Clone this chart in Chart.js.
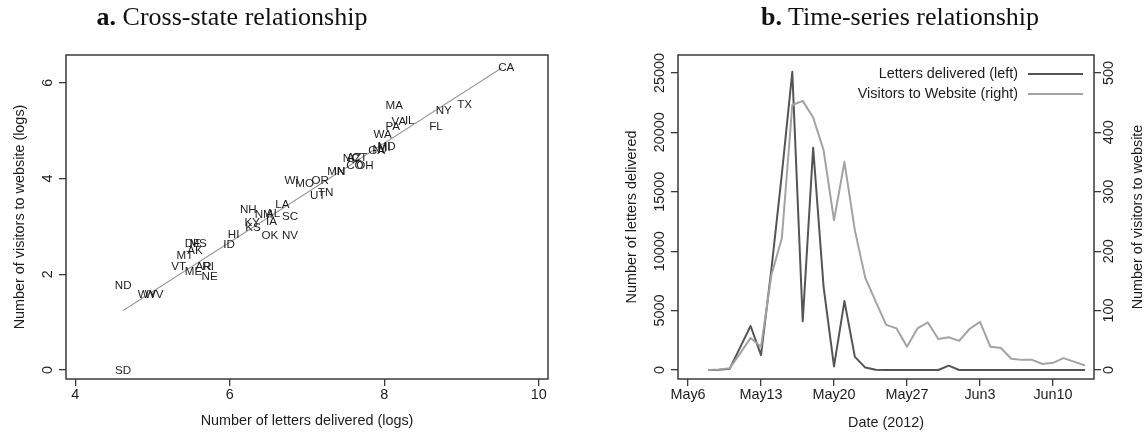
<!DOCTYPE html>
<html>
<head>
<meta charset="utf-8">
<script src="https://cdn.jsdelivr.net/npm/chart.js@4.4.1/dist/chart.umd.min.js"></script>
<style>
  html, body { margin: 0; padding: 0; background: #fff; }
  #wrap { position: relative; width: 1148px; height: 439px; overflow: hidden; }
  .panel { position: absolute; top: 0; width: 574px; height: 439px; }
  .title {
    position: absolute; top: 2px; line-height: 30px;
    font-family: "Liberation Serif", "DejaVu Serif", serif; font-size: 26px;
    color: #111; white-space: nowrap; transform: translateX(-50%);
  }
</style>
</head>
<body>
<div id="wrap">
  <div class="panel" style="left:0"><canvas id="cross" width="574" height="439"></canvas></div>
  <div class="panel" style="left:574px"><canvas id="series" width="574" height="439"></canvas></div>
  <div class="title" style="left:232px"><b>a.</b> Cross-state relationship</div>
  <div class="title" style="left:900px"><b>b.</b> Time-series relationship</div>
</div>
<script>
// ---- Panel a: states, log letters delivered vs log website visitors ----
const stateCodes = ['CA','TX','NY','FL','MA','IL','VA','PA','WA','MD','MI','NJ','GA','NC','AZ','CT','CO','OH',
  'MN','IN','OR','WI','MO','TN','UT','LA','NH','NM','AL','SC','KY','IA','KS','OK','NV','HI','ID','DE','MS',
  'AK','MT','VT','AR','RI','ME','NE','ND','WY','WV','SD'];
const logLetters = [9.58,9.04,8.77,8.67,8.13,8.33,8.19,8.11,7.98,8.03,8.00,7.94,7.90,7.57,7.61,7.68,7.62,7.75,
  7.38,7.42,7.17,6.80,6.97,7.24,7.14,6.68,6.24,6.44,6.56,6.78,6.29,6.54,6.30,6.52,6.78,6.05,5.99,5.52,5.59,
  5.55,5.42,5.34,5.66,5.72,5.53,5.74,4.62,4.93,5.02,4.62];
const logVisitors = [6.33,5.55,5.43,5.09,5.53,5.22,5.20,5.08,4.93,4.68,4.66,4.61,4.58,4.42,4.44,4.44,4.28,4.28,
  4.14,4.15,3.97,3.97,3.90,3.72,3.65,3.47,3.35,3.25,3.28,3.20,3.08,3.10,2.97,2.82,2.82,2.84,2.63,2.65,2.65,
  2.49,2.39,2.17,2.17,2.17,2.07,1.95,1.77,1.59,1.59,0.00];
// fitted line, drawn between its two end points
const fitLetters = [4.62, 9.52];
const fitVisitors = [1.24, 6.31];
const crossXTicks = [4, 6, 8, 10];
const crossYTicks = [0, 2, 4, 6];

// ---- Panel b: daily series, 2012 ----
const days = ['2012-05-08','2012-05-09','2012-05-10','2012-05-11','2012-05-12','2012-05-13','2012-05-14',
  '2012-05-15','2012-05-16','2012-05-17','2012-05-18','2012-05-19','2012-05-20','2012-05-21','2012-05-22',
  '2012-05-23','2012-05-24','2012-05-25','2012-05-26','2012-05-27','2012-05-28','2012-05-29','2012-05-30',
  '2012-05-31','2012-06-01','2012-06-02','2012-06-03','2012-06-04','2012-06-05','2012-06-06','2012-06-07',
  '2012-06-08','2012-06-09','2012-06-10','2012-06-11','2012-06-12','2012-06-13'];
const lettersDelivered = [0,20,100,1900,3700,1250,8500,16500,25100,4100,18700,7000,300,5800,1100,
  200,10,0,0,0,0,0,0,370,0,0,0,0,0,0,0,0,0,0,0,0,0];
const websiteVisitors = [0,1,3,28,54,39,160,222,446,453,425,370,252,350,235,
  155,115,76,70,39,70,80,52,55,49,69,81,39,37,19,17,17,10,12,20,14,8];
const dateTickDays = ['2012-05-06','2012-05-13','2012-05-20','2012-05-27','2012-06-03','2012-06-10'];
const dateTickLabels = ['May6','May13','May20','May27','Jun3','Jun10'];
const letterTicks = [0, 5000, 10000, 15000, 20000, 25000];
const visitorTicks = [0, 100, 200, 300, 400, 500];

const FONT = '"Liberation Sans", Arial, Helvetica, sans-serif';
const INK = '#1c1c1c';
const AXIS = '#3a3a3a';
const DARK_LINE = '#555555';
const LIGHT_LINE = '#a3a3a3';

const origin = Date.UTC(2012, 4, 6);
const dayIndex = s => (Date.parse(s + 'T00:00:00Z') - origin) / 86400000;

function fixedTicks(values) {
  return scale => { scale.ticks = values.map(v => ({ value: v })); };
}

function axis(extra) {
  return Object.assign({
    type: 'linear',
    border: { display: false },
    grid: { drawOnChartArea: false, drawTicks: true, tickLength: 7, color: AXIS, lineWidth: 1.3 },
    ticks: { display: false }
  }, extra);
}

function frame(ctx, a) {
  ctx.save();
  ctx.strokeStyle = AXIS;
  ctx.lineWidth = 1.5;
  ctx.strokeRect(a.left, a.top, a.right - a.left, a.bottom - a.top);
  ctx.restore();
}

function vtext(ctx, text, x, y) {
  ctx.save();
  ctx.translate(x, y);
  ctx.rotate(-Math.PI / 2);
  ctx.textAlign = 'center';
  ctx.textBaseline = 'middle';
  ctx.fillText(text, 0, 0);
  ctx.restore();
}

function htext(ctx, text, x, y, align) {
  ctx.textAlign = align || 'center';
  ctx.textBaseline = 'middle';
  ctx.fillText(text, x, y);
}

const common = {
  responsive: false,
  animation: false,
  devicePixelRatio: 1,
  events: [],
  plugins: { legend: { display: false }, tooltip: { enabled: false } }
};

// ---------- panel a ----------
const stateLabels = {
  id: 'stateLabels',
  afterDatasetsDraw(chart) {
    const ctx = chart.ctx;
    const meta = chart.getDatasetMeta(1);
    ctx.save();
    ctx.fillStyle = INK;
    ctx.font = '11.6px ' + FONT;
    meta.data.forEach((pt, i) => htext(ctx, stateCodes[i], pt.x, pt.y + 0.5));
    ctx.restore();
  }
};

const crossAxes = {
  id: 'crossAxes',
  afterDraw(chart) {
    const ctx = chart.ctx, a = chart.chartArea;
    const xs = chart.scales.x, ys = chart.scales.y;
    frame(ctx, a);
    ctx.save();
    ctx.fillStyle = INK;
    ctx.font = '14.4px ' + FONT;
    crossXTicks.forEach(v => htext(ctx, String(v), xs.getPixelForValue(v), a.bottom + 16));
    crossYTicks.forEach(v => vtext(ctx, String(v), a.left - 18, ys.getPixelForValue(v)));
    htext(ctx, 'Number of letters delivered (logs)', (a.left + a.right) / 2, a.bottom + 42);
    vtext(ctx, 'Number of visitors to website (logs)', a.left - 46, (a.top + a.bottom) / 2);
    ctx.restore();
  }
};

new Chart(document.getElementById('cross'), {
  type: 'scatter',
  data: {
    datasets: [
      {
        type: 'line',
        data: fitLetters.map((x, i) => ({ x, y: fitVisitors[i] })),
        borderColor: '#9a9a9a', borderWidth: 1.1, pointRadius: 0, fill: false
      },
      {
        data: logLetters.map((x, i) => ({ x, y: logVisitors[i] })),
        pointRadius: 0, pointHoverRadius: 0
      }
    ]
  },
  options: Object.assign({}, common, {
    layout: { padding: { top: 55, right: 26, left: 0, bottom: 0 } },
    scales: {
      x: axis({ min: 3.88, max: 10.12, afterBuildTicks: fixedTicks(crossXTicks),
                afterFit: s => { s.height = 60; } }),
      y: axis({ min: -0.19, max: 6.58, afterBuildTicks: fixedTicks(crossYTicks),
                afterFit: s => { s.width = 66; } })
    }
  }),
  plugins: [stateLabels, crossAxes]
});

// ---------- panel b ----------
const seriesAxes = {
  id: 'seriesAxes',
  afterDraw(chart) {
    const ctx = chart.ctx, a = chart.chartArea;
    const xs = chart.scales.x, yl = chart.scales.yL, yr = chart.scales.yR;
    frame(ctx, a);
    ctx.save();
    ctx.fillStyle = INK;
    ctx.font = '14.4px ' + FONT;
    dateTickDays.forEach((d, i) => htext(ctx, dateTickLabels[i], xs.getPixelForValue(dayIndex(d)), a.bottom + 16));
    letterTicks.forEach(v => vtext(ctx, String(v), a.left - 18, yl.getPixelForValue(v)));
    visitorTicks.forEach(v => vtext(ctx, String(v), a.right + 15, yr.getPixelForValue(v)));
    htext(ctx, 'Date (2012)', (a.left + a.right) / 2, a.bottom + 44);
    vtext(ctx, 'Number of letters delivered', a.left - 46, (a.top + a.bottom) / 2);
    vtext(ctx, 'Number of visitors to website', a.right + 44, (a.top + a.bottom) / 2);

    // legend, top right inside the frame
    const names = ['Letters delivered (left)', 'Visitors to Website (right)'];
    const colors = [DARK_LINE, LIGHT_LINE];
    const lineEnd = a.right - 11, lineStart = lineEnd - 55, textEnd = lineStart - 10;
    names.forEach((n, i) => {
      const y = a.top + 19 + i * 20;
      ctx.fillStyle = INK;
      htext(ctx, n, textEnd, y, 'right');
      ctx.strokeStyle = colors[i];
      ctx.lineWidth = 2;
      ctx.beginPath();
      ctx.moveTo(lineStart, y);
      ctx.lineTo(lineEnd, y);
      ctx.stroke();
    });
    ctx.restore();
  }
};

new Chart(document.getElementById('series'), {
  type: 'scatter',
  data: {
    datasets: [
      {
        label: 'Visitors to Website (right)',
        yAxisID: 'yR', order: 1, showLine: true,
        data: days.map((d, i) => ({ x: dayIndex(d), y: websiteVisitors[i] })),
        borderColor: LIGHT_LINE, borderWidth: 2, pointRadius: 0,
        borderJoinStyle: 'round', borderCapStyle: 'round'
      },
      {
        label: 'Letters delivered (left)',
        yAxisID: 'yL', order: 2, showLine: true,
        data: days.map((d, i) => ({ x: dayIndex(d), y: lettersDelivered[i] })),
        borderColor: DARK_LINE, borderWidth: 2, pointRadius: 0,
        borderJoinStyle: 'round', borderCapStyle: 'round'
      }
    ]
  },
  options: Object.assign({}, common, {
    layout: { padding: { top: 55, right: 0, left: 0, bottom: 0 } },
    scales: {
      x: axis({ min: -0.96, max: 38.93, afterBuildTicks: fixedTicks(dateTickDays.map(dayIndex)),
                afterFit: s => { s.height = 60; } }),
      yL: axis({ position: 'left', min: -760, max: 26510, afterBuildTicks: fixedTicks(letterTicks),
                 afterFit: s => { s.width = 104; } }),
      yR: axis({ position: 'right', min: -15.2, max: 530.2, afterBuildTicks: fixedTicks(visitorTicks),
                 afterFit: s => { s.width = 54; } })
    }
  }),
  plugins: [seriesAxes]
});
</script>
</body>
</html>
